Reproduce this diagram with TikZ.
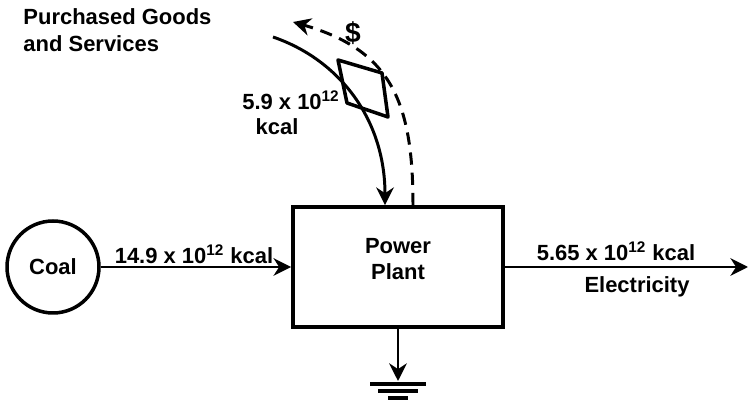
\documentclass[tikz,border=0pt]{standalone}
\usepackage{fontspec}
\setmainfont{Liberation Sans}
\usetikzlibrary{arrows.meta}
\tikzset{
  flow/.style={line width=1.7pt, -{Stealth[length=10pt,width=10pt]}},
  lettering/.style={font=\fontsize{12.5}{15}\selectfont\bfseries, inner sep=0pt},
}
\begin{document}
\begin{tikzpicture}[x=0.02cm, y=-0.02cm, line width=1.7pt]
\useasboundingbox (0,0) rectangle (750,401);
% source and plant
\node[draw, circle, minimum size=1.84cm, lettering, line width=2pt] (coal) at (53,267) {Coal};
\node[draw, minimum width=4.2cm, minimum height=2.4cm, line width=2.2pt] (plant) at (398,267) {};
\node[lettering, align=center] (plantname) at (398,259) {Power\\Plant};
% coal input
\draw[flow] (coal) -- (plant);
\node[lettering] (coalflow) at (194,254) {14.9 x 10\textsuperscript{12} kcal};
% electricity output
\coordinate (elec) at (748,267);
\draw[flow] (plant) -- (elec);
\node[lettering] (elecflow) at (616,251) {5.65 x 10\textsuperscript{12} kcal};
\node[lettering] (eleclabel) at (637,287) {Electricity};
% heat sink
\coordinate (gnd) at (398,381);
\draw[flow] (plant.south) -- (gnd);
\draw[line width=2pt] (gnd) ++(-28,3) -- ++(56,0) (gnd) ++(-20,10) -- ++(40,0) (gnd) ++(-10,17) -- ++(20,0);
% purchased goods and services
\node[lettering, align=left, anchor=west] (goods) at (22,30) {Purchased Goods\\and Services};
\coordinate (goodsin) at (273,37);
\draw[flow] (goodsin) .. controls (340,60) and (385,120) .. ([xshift=-0.26cm]plant.north);
\coordinate (payout) at (293,22);
\draw[flow, dash pattern=on 7pt off 4.5pt] ([xshift=0.3cm]plant.north) .. controls (413,100) and (390,50) .. (payout);
\draw[line width=2pt, line join=round] (338,60) -- (382,73) -- (388,117) -- (347,103) -- cycle;
\node[font=\fontsize{16}{18}\selectfont\bfseries] (dollar) at (353,33) {\$};
\node[lettering] (goodsflow) at (291,100) {5.9 x 10\textsuperscript{12}};
\node[lettering] (goodsunit) at (277,127) {kcal};
\end{tikzpicture}
\end{document}
